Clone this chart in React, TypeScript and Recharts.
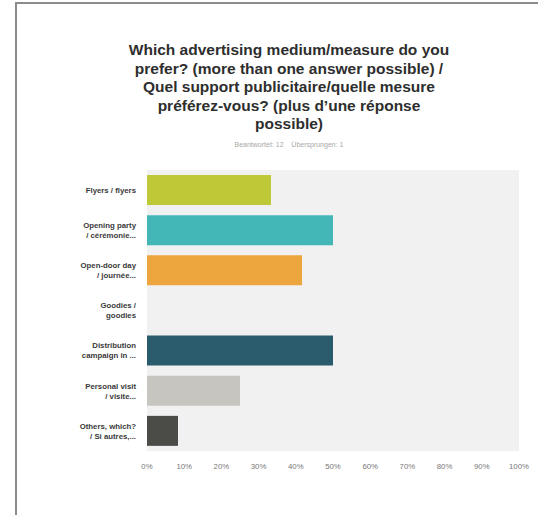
import React from "react";
import { BarChart, Bar, XAxis, YAxis, CartesianGrid, Cell } from "recharts";

const categories = [
  "Flyers / flyers",
  "Opening party|/ cérémonie...",
  "Open-door day|/ journée...",
  "Goodies /|goodies",
  "Distribution|campaign in ...",
  "Personal visit|/ visite...",
  "Others, which?|/ Si autres,...",
];
const values = [33.33, 50, 41.67, 0, 50, 25, 8.33];
const colors = ["#bfc937", "#43b6b8", "#eca63d", "#dddddd", "#2a5b6c", "#c6c5bf", "#4b4c47"];
const xTicks = [0, 10, 20, 30, 40, 50, 60, 70, 80, 90, 100];
const titleLines = [
  "Which advertising medium/measure do you",
  "prefer? (more than one answer possible) /",
  "Quel support publicitaire/quelle mesure",
  "préférez-vous? (plus d’une réponse",
  "possible)",
];
const subtitle = "Beantwortet: 12    Übersprungen: 1";

const data = categories.map((c, i) => ({ name: c, value: values[i] }));

const font = "'Liberation Sans', Arial, Helvetica, sans-serif";

const YTick = (props: any) => {
  const { x, y, payload } = props;
  const lines = String(payload.value).split("|");
  const lh = 10;
  const start = -((lines.length - 1) * lh) / 2;
  return (
    <text
      x={x}
      y={y}
      textAnchor="end"
      fontFamily={font}
      fontSize={7.8}
      fontWeight="bold"
      fill="#3a3a3a"
    >
      {lines.map((l, i) => (
        <tspan key={i} x={x} y={y + start + i * lh} dy="0.35em">
          {l}
        </tspan>
      ))}
    </text>
  );
};

export default function App() {
  return (
    <div
      style={{
        position: "absolute",
        left: 0,
        top: 0,
        width: 538,
        height: 515,
        background: "#fff",
        overflow: "hidden",
      }}
    >
      <div
        style={{
          position: "absolute",
          left: 15,
          top: 2,
          width: 540,
          height: 520,
          borderLeft: "2px solid #8c8c8c",
          borderTop: "2px solid #8c8c8c",
        }}
      />
      <div
        style={{
          position: "absolute",
          left: 100,
          top: 41,
          width: 378,
          textAlign: "center",
          fontFamily: font,
          fontWeight: "bold",
          fontSize: 15.5,
          lineHeight: "18.5px",
          color: "#2e2e2e",
        }}
      >
        {titleLines.map((l, i) => (
          <div key={i}>{l}</div>
        ))}
      </div>
      <div
        style={{
          position: "absolute",
          left: 100,
          top: 141,
          width: 378,
          textAlign: "center",
          fontFamily: font,
          fontSize: 7,
          color: "#a8a8a8",
          whiteSpace: "pre",
        }}
      >
        {subtitle}
      </div>
      <div style={{ position: "absolute", left: 0, top: 0 }}>
        <BarChart
          width={538}
          height={515}
          layout="vertical"
          data={data}
          margin={{ top: 170, right: 19, left: 0, bottom: 44 }}
          barSize={30}
        >
          <CartesianGrid horizontal={false} vertical={false} fill="#f1f1f1" stroke="none" />
          <XAxis
            type="number"
            domain={[0, 100]}
            ticks={xTicks}
            tickFormatter={(v: number) => `${v}%`}
            axisLine={false}
            tickLine={false}
            height={20}
            interval={0}
            tick={{ fontFamily: font, fontSize: 7.8, fill: "#777" }}
            tickMargin={6}
          />
          <YAxis
            type="category"
            dataKey="name"
            width={147}
            axisLine={false}
            tickLine={false}
            tick={<YTick />}
            tickMargin={5}
            interval={0}
          />
          <Bar dataKey="value" isAnimationActive={false}>
            {data.map((d, i) => (
              <Cell key={i} fill={colors[i]} />
            ))}
          </Bar>
        </BarChart>
      </div>
    </div>
  );
}
